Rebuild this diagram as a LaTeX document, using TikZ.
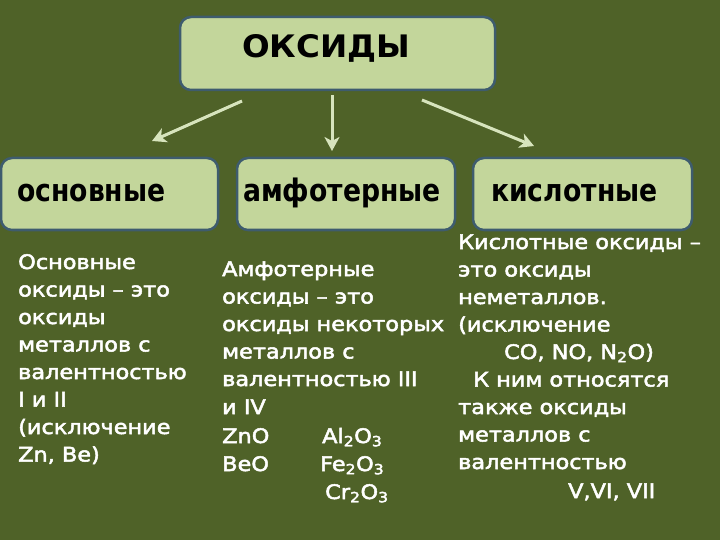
\documentclass[tikz,border=0pt]{standalone}
\usepackage{fontspec}
\setmainfont{DejaVu Sans}
\newfontfamily\boxfont{DejaVu Sans Bold}[FakeStretch=0.86]
\newfontfamily\titlefont{DejaVu Sans Bold}[FakeStretch=1.05]
\newfontfamily\bodyfont{DejaVu Sans}[FakeStretch=1.12,FakeBold=2.5]
\usetikzlibrary{arrows.meta}
\definecolor{bgol}{RGB}{79,98,40}
\definecolor{boxfill}{RGB}{195,214,155}
\definecolor{boxline}{RGB}{62,92,110}
\definecolor{arrowcol}{RGB}{215,228,189}
\tikzset{
  box/.style={draw=boxline, line width=2.5pt, fill=boxfill, rounded corners=11pt, inner sep=0pt},
  boxlabel/.style={anchor=base west, inner sep=0pt, text=black, font=\boxfont\fontsize{31}{33}\selectfont},
  bodyline/.style={anchor=base west, inner sep=0pt, text=white, font=\bodyfont\fontsize{20}{22}\selectfont},
  arr/.style={draw=arrowcol, line width=3pt, -{Stealth[length=14pt,width=15pt,inset=4pt]}}
}
\begin{document}
\begin{tikzpicture}[x=1pt,y=-1pt]
\useasboundingbox (0,0) rectangle (720,540);
\fill[bgol] (0,0) rectangle (720,540);

% boxes
\node[box, minimum width=315pt, minimum height=73pt] (top) at (337.5,53.5) {};
\node[boxlabel, font=\titlefont\fontsize{31}{33}\selectfont] (toptext) at (242,58) {ОКСИДЫ};

\node[box, minimum width=217pt, minimum height=72pt] (b1) at (109.5,194) {};
\node[box, minimum width=218pt, minimum height=72pt] (b2) at (346,194) {};
\node[box, minimum width=219pt, minimum height=72pt] (b3) at (582.5,194) {};
\node[boxlabel] (t1) at (17,202) {основные};
\node[boxlabel] (t2) at (243,202) {амфотерные};
\node[boxlabel] (t3) at (491,202) {кислотные};

% arrows
\coordinate (a1s) at (242,101);
\coordinate (a1e) at (152,141);
\coordinate (a2s) at (332,95);
\coordinate (a2e) at (332,151);
\coordinate (a3s) at (422,100);
\coordinate (a3e) at (534,146);
\draw[arr] (a1s) -- (a1e);
\draw[arr] (a2s) -- (a2e);
\draw[arr] (a3s) -- (a3e);

% left column
\node[bodyline] (l1) at (18,269) {Основные};
\node[bodyline] (l2) at (18,296.5) {оксиды – это};
\node[bodyline] (l3) at (18,324) {оксиды};
\node[bodyline] (l4) at (18,351.5) {металлов с};
\node[bodyline] (l5) at (18,379) {валентностью};
\node[bodyline] (l6) at (18,406.5) {I и II};
\node[bodyline] (l7) at (18,434) {(исключение};
\node[bodyline] (l8) at (18,461.5) {Zn, Be)};

% middle column
\node[bodyline] (m1) at (222,276) {Амфотерные};
\node[bodyline] (m2) at (222,303.5) {оксиды – это};
\node[bodyline] (m3) at (222,331) {оксиды некоторых};
\node[bodyline] (m4) at (222,358.5) {металлов с};
\node[bodyline] (m5) at (222,386) {валентностью III};
\node[bodyline] (m6) at (222,414) {и IV};
\node[bodyline] (m7) at (222,443) {ZnO};
\node[bodyline] (m8) at (322,443) {Al\textsubscript{2}O\textsubscript{3}};
\node[bodyline] (m9) at (222,471) {BeO};
\node[bodyline] (m10) at (320,471) {Fe\textsubscript{2}O\textsubscript{3}};
\node[bodyline] (m11) at (325,499) {Cr\textsubscript{2}O\textsubscript{3}};

% right column
\node[bodyline] (r1) at (458,249) {Кислотные оксиды –};
\node[bodyline] (r2) at (458,276.5) {это оксиды};
\node[bodyline] (r3) at (458,304) {неметаллов.};
\node[bodyline] (r4) at (458,331.5) {(исключение};
\node[bodyline] (r5) at (504,359) {CO, NO, N\textsubscript{2}O)};
\node[bodyline] (r6) at (473,386.5) {К ним относятся};
\node[bodyline] (r7) at (458,414) {также оксиды};
\node[bodyline] (r8) at (458,441.5) {металлов с};
\node[bodyline] (r9) at (458,469) {валентностью};
\node[bodyline] (r10) at (568,498) {V,VI, VII};
\end{tikzpicture}
\end{document}
